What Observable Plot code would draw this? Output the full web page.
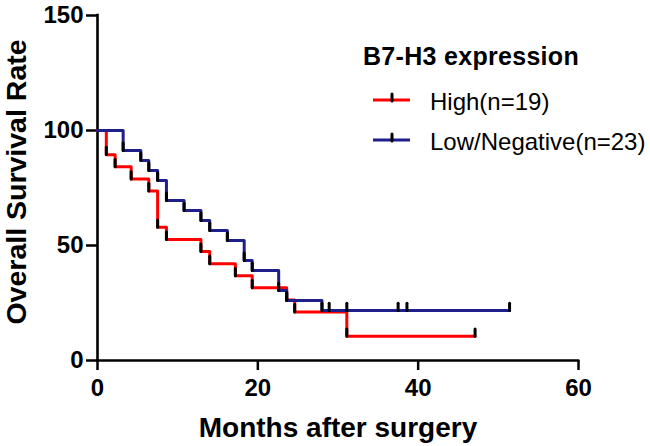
<!DOCTYPE html>
<html>
<head>
<meta charset="utf-8">
<script src="https://cdn.jsdelivr.net/npm/d3@7"></script>
<script src="https://cdn.jsdelivr.net/npm/@observablehq/plot@0.6"></script>
<style>
  html, body { margin: 0; padding: 0; background: #fff; }
  #wrap { position: relative; width: 650px; height: 446px; font-family: "Liberation Sans", Arial, sans-serif; }
  #legend { position: absolute; left: 0; top: 0; }
</style>
</head>
<body>
<div id="wrap"></div>
<script>
// ---- data ----
const xTicks = [0, 20, 40, 60];
const yTicks = [0, 50, 100, 150];

// High (n=19): step curve (months, survival %)
const highTimes = [0, 1.1, 2.2, 4.2, 6.4, 7.5, 8.6, 12.9, 14.0, 17.2, 19.3, 23.6, 24.6, 31.1, 47.1];
const highSurv  = [100, 89.5, 84.2, 78.9, 73.7, 57.9, 52.6, 47.4, 42.1, 36.8, 31.6, 26.3, 21.1, 10.5, 10.5];

// Low/Negative (n=23)
const lowTimes = [0, 3.2, 5.4, 6.4, 7.5, 8.6, 10.8, 12.9, 14.0, 16.2, 18.3, 19.3, 22.6, 23.6, 28.0, 51.4];
const lowSurv  = [100, 91.3, 87.0, 82.6, 78.3, 69.6, 65.2, 60.9, 56.5, 52.2, 43.5, 39.1, 30.4, 26.1, 21.7, 21.7];
// extra censored times on the Low curve (at 21.7 %)
const lowCensor = [28.9, 31.1, 37.5, 38.6];

const seriesNames = ["High(n=19)", "Low/Negative(n=23)"];
const seriesColors = ["#ff0000", "#1f1f8c"];
const legendTitle = "B7-H3 expression";
const xLabel = "Months after surgery";
const yLabel = "Overall Survival Rate";

// ---- build tables ----
const high = highTimes.map((t, i) => ({t, s: highSurv[i]}));
const low = lowTimes.map((t, i) => ({t, s: lowSurv[i]}));
const marks = [
  ...high.slice(1),
  ...low.slice(1),
  ...lowCensor.map(t => ({t, s: lowSurv[lowSurv.length - 1]}))
];

const font = "'Liberation Sans', Arial, sans-serif";

const chart = Plot.plot({
  width: 650,
  height: 446,
  marginLeft: 97,
  marginRight: 72,
  marginTop: 15,
  marginBottom: 86,
  style: {fontFamily: font, color: "black", background: "white", overflow: "visible"},
  x: {domain: [0, 60]},
  y: {domain: [0, 150]},
  marks: [
    Plot.axisX({ticks: xTicks, tickSize: 10, tickPadding: 8, fontSize: 24, fontWeight: "bold", strokeWidth: 2.5, label: null}),
    Plot.axisY({ticks: yTicks, tickSize: 11, tickPadding: 3, fontSize: 24, fontWeight: "bold", strokeWidth: 2.5, label: null}),
    Plot.ruleY([0], {stroke: "black", strokeWidth: 2.6, strokeLinecap: "square"}),
    Plot.ruleX([0], {stroke: "black", strokeWidth: 2.6, strokeLinecap: "square"}),
    Plot.line(high, {x: "t", y: "s", curve: "step-after", stroke: seriesColors[0], strokeWidth: 3}),
    Plot.line(low, {x: "t", y: "s", curve: "step-after", stroke: seriesColors[1], strokeWidth: 3}),
    Plot.ruleX(marks, {x: "t", y1: d => d.s - 0.2, y2: d => d.s + 3.0, stroke: "black", strokeWidth: 3, strokeLinecap: "round"}),
    Plot.text([xLabel], {frameAnchor: "bottom", dy: 68, fontSize: 28, fontWeight: "bold", lineAnchor: "middle", textAnchor: "middle"}),
    Plot.text([yLabel], {frameAnchor: "left", dx: -81, dy: -6, rotate: -90, fontSize: 28.5, fontWeight: "bold", lineAnchor: "middle", textAnchor: "middle"})
  ]
});

const wrap = document.getElementById("wrap");
wrap.appendChild(chart);

// ---- legend overlay ----
const ns = "http://www.w3.org/2000/svg";
const lg = document.createElementNS(ns, "svg");
lg.setAttribute("id", "legend");
lg.setAttribute("width", 650);
lg.setAttribute("height", 446);
const sel = d3.select(lg);
sel.append("text").attr("x", 363).attr("y", 65)
  .attr("font-family", font).attr("font-size", 25).attr("font-weight", "bold")
  .attr("letter-spacing", 0.3)
  .text(legendTitle);
seriesNames.forEach((name, i) => {
  const y = 100 + i * 40;
  const g = sel.append("g");
  g.append("line").attr("x1", 373).attr("x2", 410).attr("y1", y).attr("y2", y)
    .attr("stroke", seriesColors[i]).attr("stroke-width", 3);
  g.append("line").attr("x1", 392).attr("x2", 392).attr("y1", y + 1).attr("y2", y - 6)
    .attr("stroke", "black").attr("stroke-width", 3).attr("stroke-linecap", "round");
  g.append("text").attr("x", 430).attr("y", y + 10)
    .attr("font-family", font).attr("font-size", 24)
    .text(name);
});
wrap.appendChild(lg);
</script>
</body>
</html>
